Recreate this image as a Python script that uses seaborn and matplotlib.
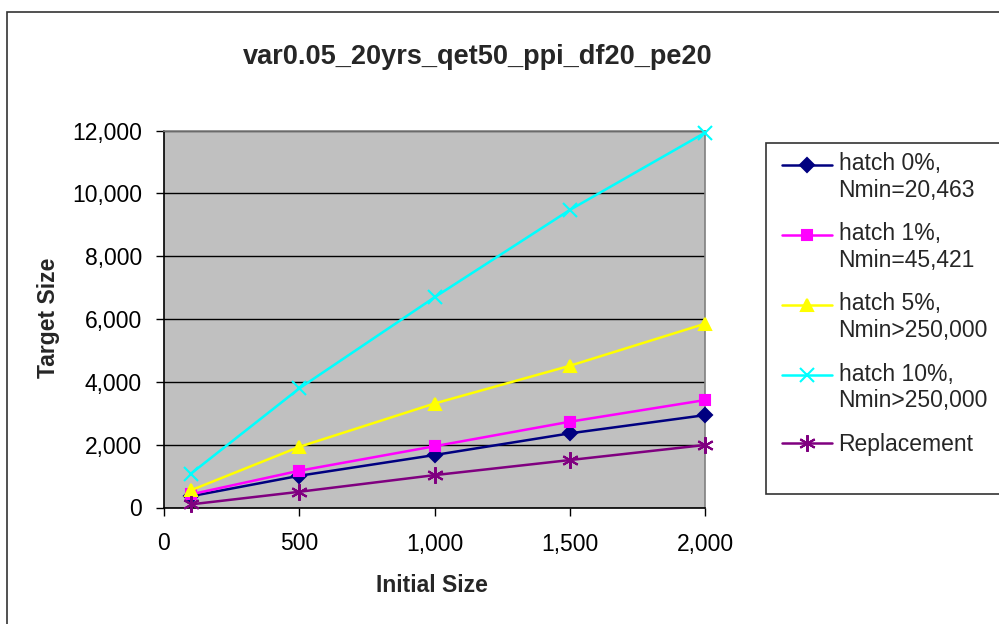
import matplotlib
matplotlib.use("Agg")
import matplotlib.pyplot as plt
import seaborn as sns
import pandas as pd
import numpy as np
from matplotlib.patches import Rectangle
from matplotlib.ticker import FuncFormatter
from matplotlib.legend_handler import HandlerLine2D

# ---- data ----
initial_size = [100, 500, 1000, 1500, 2000]
hatch0 = [360, 1010, 1670, 2360, 2940]
hatch1 = [420, 1170, 1950, 2730, 3420]
hatch5 = [550, 1930, 3310, 4510, 5850]
hatch10 = [1080, 3790, 6690, 9470, 11930]
replacement = [100, 500, 1030, 1510, 1990]
series_labels = ["hatch 0%,\nNmin=20,463", "hatch 1%,\nNmin=45,421",
                 "hatch 5%,\nNmin>250,000", "hatch 10%,\nNmin>250,000",
                 "Replacement"]
x_ticks = [0, 500, 1000, 1500, 2000]
y_ticks = [0, 2000, 4000, 6000, 8000, 10000, 12000]
title = "var0.05_20yrs_qet50_ppi_df20_pe20"

sns.set_theme(style="white")
plt.rcParams["font.family"] = ["Liberation Sans", "DejaVu Sans"]

W, H = 999, 624
fig = plt.figure(figsize=(W / 100, H / 100), dpi=100)
fig.patch.set_facecolor("white")

# outer chart border (cut off at right/bottom)
fig.patches.append(Rectangle((7 / W, -0.05), 1.1, 1 - 12 / H + 0.05,
                             transform=fig.transFigure, fill=False,
                             edgecolor="#333333", lw=1.2))

l, r, t, b = 164, 705, 130.5, 507.5
ax = fig.add_axes([l / W, 1 - b / H, (r - l) / W, (b - t) / H])
ax.set_facecolor("#C0C0C0")

all_series = [hatch0, hatch1, hatch5, hatch10, replacement]
colors = ["#000080", "#FF00FF", "#FFFF00", "#00FFFF", "#800080"]
markers = ["D", "s", "^", "x", (6, 2, 0)]
msizes = [7, 7.5, 9, 10, 12]

rows = []
for lab, ys in zip(series_labels, all_series):
    for xv, yv in zip(initial_size, ys):
        rows.append({"Initial Size": xv, "Target Size": yv, "series": lab})
df = pd.DataFrame(rows)

for lab, c, m, ms in zip(series_labels, colors, markers, msizes):
    sub = df[df["series"] == lab]
    sns.lineplot(data=sub, x="Initial Size", y="Target Size", ax=ax,
                 color=c, marker=m, markersize=ms, markeredgecolor=c,
                 markerfacecolor=c, markeredgewidth=1.5, linewidth=1.8,
                 label=lab, clip_on=False, zorder=3)

ax.set_xlim(0, 2000)
ax.set_ylim(0, 12000)
ax.set_xticks(x_ticks)
ax.set_yticks(y_ticks)
fmt = FuncFormatter(lambda v, p: f"{int(v):,}")
ax.xaxis.set_major_formatter(fmt)
ax.yaxis.set_major_formatter(fmt)
ax.grid(axis="y", color="black", lw=1, zorder=1)
ax.grid(axis="x", visible=False)
ax.set_axisbelow(True)
ax.tick_params(axis="both", direction="out", length=6, width=1,
               color="black", labelsize=16.5, labelcolor="black",
               bottom=True, left=True)
ax.tick_params(axis="y", pad=10)
ax.tick_params(axis="x", pad=12)
for s in ["left", "bottom"]:
    ax.spines[s].set_color("black")
    ax.spines[s].set_linewidth(1.2)
for s in ["top", "right"]:
    ax.spines[s].set_color("#808080")
    ax.spines[s].set_linewidth(1.2)

ax.set_xlabel("")
ax.set_ylabel("")
fig.text(48 / W, 1 - 318 / H, "Target Size", rotation=90, ha="center",
         va="center", fontsize=16.5, fontweight="bold")
fig.text(432 / W, 1 - 585 / H, "Initial Size", ha="center", va="center",
         fontsize=16.5, fontweight="bold")
fig.text(478 / W, 1 - 57 / H, title, ha="center", va="center",
         fontsize=19.5, fontweight="bold")


class FirstLineHandler(HandlerLine2D):
    """Place the legend line on the first text line of a two-line label."""

    def __init__(self, shift=0.0, **kw):
        super().__init__(**kw)
        self.shift = shift

    def create_artists(self, legend, orig_handle, xdescent, ydescent,
                       width, height, fontsize, trans):
        arts = super().create_artists(legend, orig_handle, xdescent,
                                      ydescent, width, height, fontsize,
                                      trans)
        for a in arts:
            a.set_ydata(np.asarray(a.get_ydata(), dtype=float) + self.shift)
        return arts


# legend
ax.get_legend().remove()
handles, labels = ax.get_legend_handles_labels()
fig.patches.append(Rectangle((766 / W, 1 - 494 / H), 0.5, (494 - 143) / H,
                             transform=fig.transFigure, fill=True,
                             facecolor="white", edgecolor="#333333", lw=1.2,
                             zorder=0))
hmap = {h: FirstLineHandler(shift=(9.5 if "\n" in lab else 0.0))
        for h, lab in zip(handles, labels)}
leg = fig.legend(handles, labels, loc="upper left",
                 bbox_to_anchor=(782 / W, 1 - 152 / H), frameon=False,
                 fontsize=16.5, handlelength=2.2, handletextpad=0.27,
                 borderpad=0, borderaxespad=0, labelspacing=0.9,
                 handler_map=hmap)
for txt in leg.get_texts():
    txt.set_linespacing(1.2)

fig.savefig("out.png", dpi=100)
